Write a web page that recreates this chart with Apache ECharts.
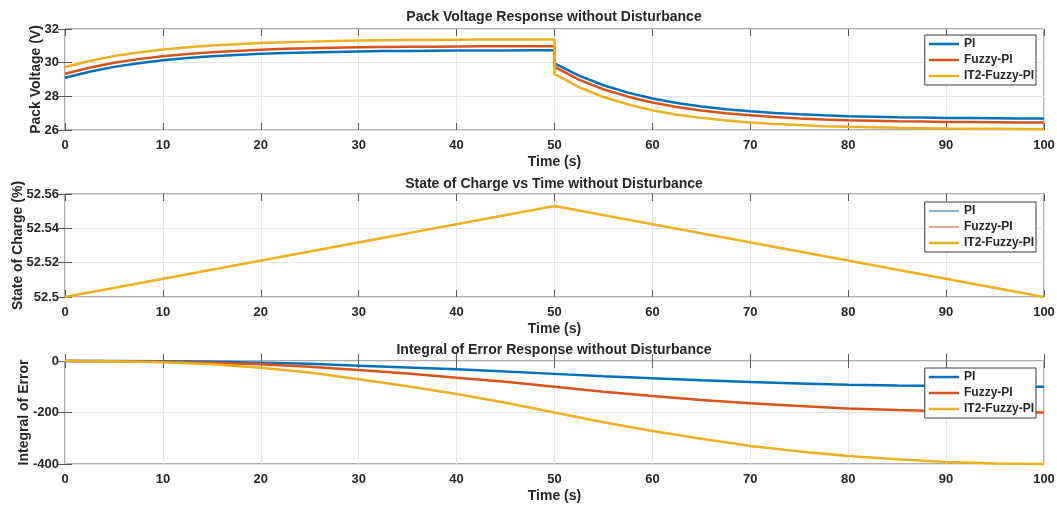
<!DOCTYPE html>
<html>
<head>
<meta charset="utf-8">
<script src="https://cdn.jsdelivr.net/npm/echarts@6/dist/echarts.min.js"></script>
<style>
html, body { margin: 0; padding: 0; background: #fff; }
#main { width: 1057px; height: 506px; }
</style>
</head>
<body>
<div id="main"></div>
<script>
// series names / colours (MATLAB default order)
const seriesNames = ['PI', 'Fuzzy-PI', 'IT2-Fuzzy-PI']
const colors = ['#0072BD', '#D95319', '#EDB120']

// pack voltage, t = 50 appears twice (step change)
const voltTime = [0, 2.5, 5, 7.5, 10, 12.5, 15, 17.5, 20, 22.5, 25, 27.5, 30, 32.5, 35, 37.5, 40, 42.5, 45, 47.5, 50,
  50, 52.5, 55, 57.5, 60, 62.5, 65, 67.5, 70, 72.5, 75, 77.5, 80, 82.5, 85, 87.5, 90, 92.5, 95, 97.5, 100]
const voltPI = [29.10, 29.46, 29.75, 29.97, 30.14, 30.28, 30.38, 30.46, 30.53, 30.58, 30.61, 30.64, 30.67, 30.69, 30.70, 30.71, 30.72, 30.73, 30.73, 30.74, 30.74,
  29.96, 29.23, 28.66, 28.22, 27.87, 27.61, 27.40, 27.23, 27.11, 27.01, 26.93, 26.87, 26.82, 26.79, 26.76, 26.74, 26.72, 26.71, 26.70, 26.69, 26.68]
const voltFuzzy = [29.34, 29.70, 29.99, 30.21, 30.38, 30.52, 30.62, 30.70, 30.77, 30.82, 30.85, 30.88, 30.91, 30.93, 30.94, 30.95, 30.96, 30.97, 30.97, 30.98, 30.98,
  29.75, 28.99, 28.42, 27.98, 27.63, 27.37, 27.16, 26.99, 26.87, 26.77, 26.69, 26.63, 26.58, 26.55, 26.52, 26.50, 26.48, 26.47, 26.46, 26.45, 26.44]
const voltIT2 = [29.74, 30.10, 30.39, 30.61, 30.78, 30.92, 31.02, 31.10, 31.17, 31.22, 31.25, 31.28, 31.31, 31.33, 31.34, 31.35, 31.36, 31.37, 31.37, 31.38, 31.38,
  29.33, 28.55, 27.96, 27.52, 27.17, 26.91, 26.72, 26.56, 26.45, 26.36, 26.29, 26.23, 26.19, 26.16, 26.13, 26.11, 26.09, 26.08, 26.07, 26.06, 26.05]

// state of charge
const socTime = [0, 50, 100]
const socPI = [52.5, 52.553, 52.5]
const socFuzzy = [52.5, 52.553, 52.5]
const socIT2 = [52.5, 52.553, 52.5]

// integral of error
const errTime = [0, 5, 10, 15, 20, 25, 30, 35, 40, 45, 50, 55, 60, 65, 70, 75, 80, 85, 90, 95, 100]
const errPI = [0, -0.3, -1.3, -3.3, -6.5, -11, -18, -25, -32, -41, -50, -59, -67, -75, -82, -87, -92, -95, -97, -99, -100]
const errFuzzy = [0, -0.5, -2.5, -6.5, -13, -22.5, -35, -49, -65, -81, -100, -119, -136, -151, -164, -175, -184, -190, -195, -198, -200]
const errIT2 = [0, -1, -5, -13, -26, -45, -71, -98, -128, -162, -200, -238, -272, -302, -330, -351, -369, -382, -392, -398, -400]

// axis ticks
const xTicks = { min: 0, max: 100, interval: 10 }
const voltTicks = { min: 26, max: 32, interval: 2 }
const socTicks = { min: 52.5, max: 52.56, interval: 0.02 }
const errTicks = { min: -400, max: 0, interval: 200 }

const font = 'Liberation Sans, Arial, sans-serif'
const textColor = '#262626'
const axisColor = '#5a5a5a'
const gridColor = '#e6e6e6'

const chart = echarts.init(document.getElementById('main'))

const pairs = (xs, ys) => xs.map((x, k) => [x, ys[k]])

const panels = [
  { top: 29, height: 101, title: 'Pack Voltage Response without Disturbance', titleTop: 10,
    yName: 'Pack Voltage (V)', yGap: 22, yTicks: voltTicks, legendTop: 35,
    data: [pairs(voltTime, voltPI), pairs(voltTime, voltFuzzy), pairs(voltTime, voltIT2)],
    widths: [2.5, 2.5, 2.5] },
  { top: 194, height: 103, title: 'State of Charge vs Time without Disturbance', titleTop: 177,
    yName: 'State of Charge (%)', yGap: 40, yTicks: socTicks, legendTop: 202,
    data: [pairs(socTime, socPI), pairs(socTime, socFuzzy), pairs(socTime, socIT2)],
    widths: [1, 1, 2.5] },
  { top: 361, height: 103, title: 'Integral of Error Response without Disturbance', titleTop: 343,
    yName: 'Integral of Error', yGap: 34, yTicks: errTicks, legendTop: 368,
    data: [pairs(errTime, errPI), pairs(errTime, errFuzzy), pairs(errTime, errIT2)],
    widths: [2.5, 2.5, 2.5] }
]

const grid = [], xAxis = [], yAxis = [], series = [], title = [], legend = []

panels.forEach((p, i) => {
  grid.push({
    left: 65, right: 13, top: p.top, height: p.height, outerBoundsMode: 'none',
    show: true, borderColor: axisColor, borderWidth: 1, backgroundColor: '#fff'
  })
  title.push({
    text: p.title, left: 554, top: p.titleTop, textAlign: 'center', padding: 0,
    textStyle: { fontFamily: font, fontSize: 14, fontWeight: 'bold', color: textColor }
  })
  const tick = { show: true, inside: true, length: 7, lineStyle: { color: axisColor } }
  xAxis.push({
    gridIndex: i, type: 'value', ...xTicks,
    axisLine: { show: false }, axisTick: tick,
    axisLabel: { margin: 9, fontFamily: font, fontSize: 13, fontWeight: 'bold', color: textColor },
    splitLine: { show: true, lineStyle: { color: gridColor } },
    name: 'Time (s)', nameLocation: 'middle', nameGap: 25, nameMoveOverlap: false,
    nameTextStyle: { fontFamily: font, fontSize: 14, fontWeight: 'bold', color: textColor }
  })
  xAxis.push({
    gridIndex: i, type: 'value', position: 'top', ...xTicks,
    axisLine: { show: false }, axisTick: tick, axisLabel: { show: false }, splitLine: { show: false }
  })
  yAxis.push({
    gridIndex: i, type: 'value', ...p.yTicks,
    axisLine: { show: false }, axisTick: tick,
    axisLabel: { margin: 6, fontFamily: font, fontSize: 13, fontWeight: 'bold', color: textColor,
      formatter: v => String(+v.toFixed(2)) },
    splitLine: { show: true, lineStyle: { color: gridColor } },
    name: p.yName, nameLocation: 'middle', nameGap: p.yGap, nameMoveOverlap: false,
    nameTextStyle: { fontFamily: font, fontSize: 14, fontWeight: 'bold', color: textColor }
  })
  yAxis.push({
    gridIndex: i, type: 'value', position: 'right', ...p.yTicks,
    axisLine: { show: false }, axisTick: tick, axisLabel: { show: false }, splitLine: { show: false }
  })
  seriesNames.forEach((name, s) => {
    series.push({
      name: name, type: 'line', xAxisIndex: 2 * i, yAxisIndex: 2 * i,
      data: p.data[s], showSymbol: false, symbol: 'none', clip: false,
      lineStyle: { color: colors[s], width: p.widths[s] },
      itemStyle: { color: colors[s] }
    })
  })
  legend.push({
    top: p.legendTop, right: 21, orient: 'vertical', align: 'left',
    itemWidth: 30, itemHeight: 12, itemGap: 4,
    padding: [3, 2, 3, 3], borderColor: '#3a3a3a', borderWidth: 1,
    backgroundColor: '#fff', selectedMode: false,
    textStyle: { fontFamily: font, fontSize: 12, fontWeight: 'bold', color: textColor },
    data: seriesNames.map((name, s) => ({
      name: name,
      itemStyle: { opacity: 0 },
      lineStyle: { color: colors[s], width: p.widths[s] }
    }))
  })
})

chart.setOption({
  backgroundColor: '#fff',
  animation: false,
  title: title,
  legend: legend,
  grid: grid,
  xAxis: xAxis,
  yAxis: yAxis,
  series: series
})
</script>
</body>
</html>
